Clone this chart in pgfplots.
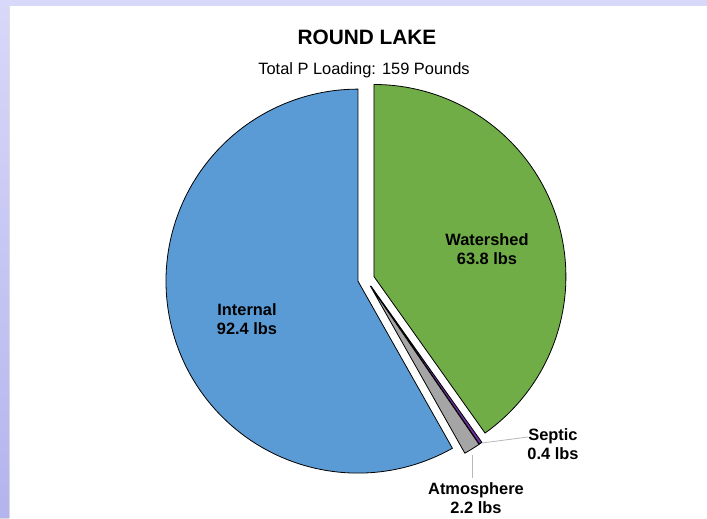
\documentclass[border=0pt]{standalone}
\usepackage{pgfplots}
\usepackage{pgfplotstable}
\pgfplotsset{compat=1.18}
\usepackage{fontspec}
\setmainfont{Liberation Sans}
\definecolor{cblue}{HTML}{5B9BD5}
\definecolor{cgreen}{HTML}{70AD47}
\definecolor{cgray}{HTML}{A5A5A5}
\definecolor{cpurple}{HTML}{7030A0}
\definecolor{bgtop}{HTML}{D8D8FA}
\definecolor{bgbot}{HTML}{B4B4EE}
\pgfplotstableread{
name value
Watershed 63.8
Septic 0.4
Atmosphere 2.2
Internal 92.4
}\loadings
\begin{document}
\begin{tikzpicture}
\pgfplotstablegetelem{0}{value}\of\loadings \let\vW\pgfplotsretval
\pgfplotstablegetelem{1}{value}\of\loadings \let\vS\pgfplotsretval
\pgfplotstablegetelem{2}{value}\of\loadings \let\vA\pgfplotsretval
\pgfplotstablegetelem{3}{value}\of\loadings \let\vI\pgfplotsretval
\pgfmathsetmacro\tot{\vW+\vS+\vA+\vI}
\def\cx{366}\def\cy{239}\def\R{192}\def\ex{8.3}
% angles (clockwise from 12 o'clock)
\pgfmathsetmacro\sW{90}
\pgfmathsetmacro\eW{\sW-360*(\vW/\tot)}
\pgfmathsetmacro\eS{\eW-360*(\vS/\tot)}
\pgfmathsetmacro\eA{\eS-360*(\vA/\tot)}
\pgfmathsetmacro\eI{\eA-360*(\vI/\tot)}
\pgfmathsetmacro\mW{(\sW+\eW)/2}
\pgfmathsetmacro\mS{(\eW+\eS)/2}
\pgfmathsetmacro\mA{(\eS+\eA)/2}
\pgfmathsetmacro\mI{(\eA+\eI)/2}
\pgfmathsetmacro\xW{\cx+\ex*cos(\mW)}\pgfmathsetmacro\yW{\cy+\ex*sin(\mW)}
\pgfmathsetmacro\xS{\cx+\ex*cos(\mS)}\pgfmathsetmacro\yS{\cy+\ex*sin(\mS)}
\pgfmathsetmacro\xA{\cx+\ex*cos(\mA)}\pgfmathsetmacro\yA{\cy+\ex*sin(\mA)}
\pgfmathsetmacro\xI{\cx+\ex*cos(\mI)}\pgfmathsetmacro\yI{\cy+\ex*sin(\mI)}
\begin{axis}[
  width=530.25pt, height=388.5pt, scale only axis,
  xmin=0, xmax=707, ymin=0, ymax=518,
  hide axis, clip=false,
]
% background frame
\fill[white] (axis cs:0,0) rectangle (axis cs:707,518);
\fill[top color=bgtop, bottom color=bgbot] (axis cs:0,0) -- (axis cs:9,0) -- (axis cs:9,512)
  -- (axis cs:707,512) -- (axis cs:707,518) -- (axis cs:0,518) -- cycle;
% wedges
\addplot[draw=black, line width=0.6pt, fill=cgreen, domain=\eW:\sW, samples=90, variable=\t]
  ({\xW+\R*cos(\t)}, {\yW+\R*sin(\t)}) -- (axis cs:\xW,\yW) -- cycle;
\addplot[draw=black, line width=0.6pt, fill=cpurple, domain=\eS:\eW, samples=3, variable=\t]
  ({\xS+\R*cos(\t)}, {\yS+\R*sin(\t)}) -- (axis cs:\xS,\yS) -- cycle;
\addplot[draw=black, line width=0.6pt, fill=cgray, domain=\eA:\eS, samples=6, variable=\t]
  ({\xA+\R*cos(\t)}, {\yA+\R*sin(\t)}) -- (axis cs:\xA,\yA) -- cycle;
\addplot[draw=black, line width=0.6pt, fill=cblue, domain=\eI:\eA, samples=120, variable=\t]
  ({\xI+\R*cos(\t)}, {\yI+\R*sin(\t)}) -- (axis cs:\xI,\yI) -- cycle;
% leader lines
\draw[gray!55, line width=0.6pt] (axis cs:482,75) -- (axis cs:528,81);
\draw[gray!55, line width=0.6pt] (axis cs:472,63) -- (axis cs:472,40);
% titles
\node[font=\fontsize{15.6}{18}\selectfont\bfseries] at (axis cs:367,481) {ROUND LAKE};
\node[font=\fontsize{12.3}{14}\selectfont] at (axis cs:364,448) {Total P Loading: 159 Pounds};
% labels
\node[font=\fontsize{12.3}{14}\selectfont\bfseries, align=center] at (axis cs:247,199) {Internal\\92.4 lbs};
\node[font=\fontsize{12.3}{14}\selectfont\bfseries, align=center] at (axis cs:487,269) {Watershed\\63.8 lbs};
\node[font=\fontsize{12.3}{14}\selectfont\bfseries, align=center] at (axis cs:553,74) {Septic\\0.4 lbs};
\node[font=\fontsize{12.3}{14}\selectfont\bfseries, align=center] at (axis cs:476,20) {Atmosphere\\2.2 lbs};
\end{axis}
\end{tikzpicture}
\end{document}
